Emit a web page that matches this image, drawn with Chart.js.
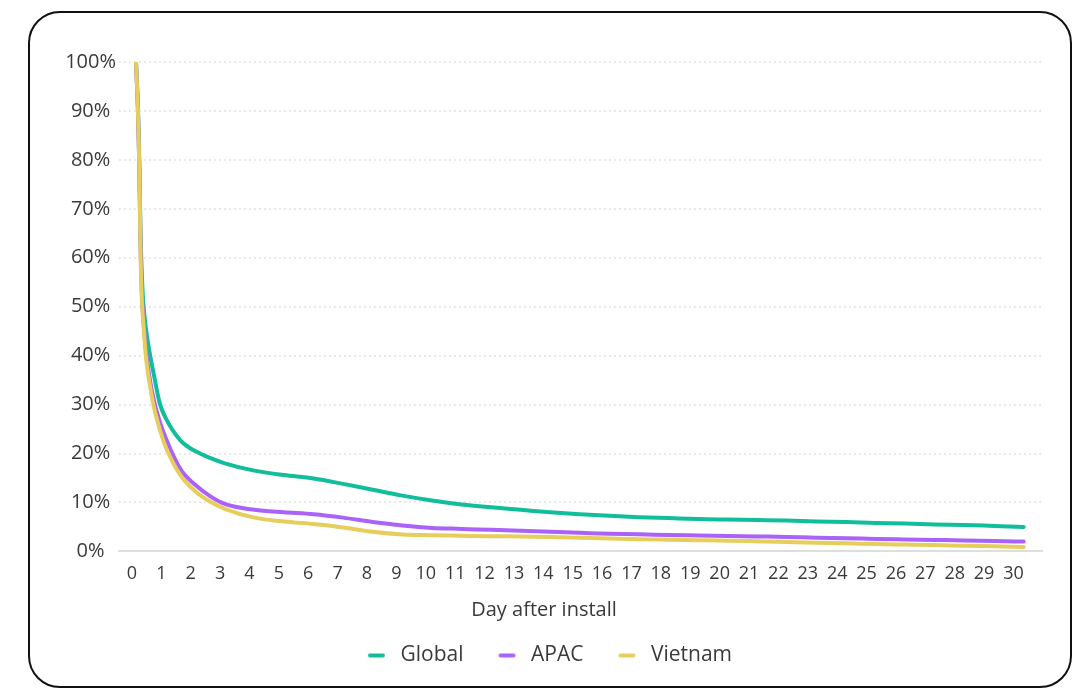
<!DOCTYPE html>
<html>
<head>
<meta charset="utf-8">
<script src="https://cdn.jsdelivr.net/npm/chart.js@4/dist/chart.umd.min.js"></script>
<style>
  html, body { margin: 0; padding: 0; background: #ffffff; }
  body { width: 1076px; height: 692px; position: relative; overflow: hidden; }
  .frame {
    position: absolute; left: 28px; top: 11px; width: 1040px; height: 673px;
    border: 2px solid #111111; border-radius: 32px;
  }
  canvas { position: absolute; left: 0; top: 0; }
</style>
</head>
<body>
<div class="frame"></div>
<canvas id="chart" width="1076" height="692"></canvas>
<script>
// Days after install (fractional steps cover the first-day drop)
const days = [0, 0.07, 0.11, 0.15, 0.2, 0.25, 0.33, 0.45, 0.6, 0.8,
  1, 1.5, 2, 2.5, 3,
  4, 5, 6, 7, 8, 9, 10, 11, 12, 13, 14, 15, 16, 17, 18, 19, 20,
  21, 22, 23, 24, 25, 26, 27, 28, 29, 30];

// Retention, percent of installed users
const globalRetention = [100, 90, 80, 66, 56, 50.5, 45.8, 41, 36.2, 30.3,
  27.3, 22.7, 20.5, 19.1, 18.0,
  16.5, 15.6, 14.9, 13.8, 12.6, 11.4, 10.4, 9.6, 9.0, 8.5, 8.0, 7.6, 7.3, 7.0, 6.8, 6.6, 6.5,
  6.4, 6.3, 6.1, 6.0, 5.8, 5.7, 5.5, 5.4, 5.2, 5.0];
const apacRetention = [100, 89, 79, 63.5, 52.5, 47.5, 41.5, 35.8, 31, 26.6,
  23.2, 16.8, 13.6, 11.3, 9.7,
  8.5, 8.0, 7.6, 6.9, 6.0, 5.3, 4.8, 4.6, 4.4, 4.2, 4.0, 3.8, 3.6, 3.5, 3.35, 3.25, 3.15,
  3.05, 2.95, 2.8, 2.7, 2.55, 2.45, 2.35, 2.25, 2.1, 2.0];
const vietnamRetention = [100, 89, 79, 62, 51, 46.5, 40, 34.6, 29.6, 25,
  21.4, 15.6, 12.3, 10.2, 8.7,
  6.9, 6.1, 5.6, 4.9, 4.0, 3.45, 3.3, 3.2, 3.1, 3.05, 2.95, 2.8, 2.65, 2.5, 2.4, 2.3, 2.2,
  2.05, 1.9, 1.75, 1.65, 1.5, 1.4, 1.3, 1.15, 1.05, 0.9];

const seriesNames = ['Global', 'APAC', 'Vietnam'];
const seriesColors = ['#12bd9b', '#ab62f8', '#e6cd5c'];
const dayTicks = Array.from({ length: 31 }, (_, i) => i);
const percentTicks = [0, 10, 20, 30, 40, 50, 60, 70, 80, 90, 100];

const FONT = "'Open Sans', 'Noto Sans', sans-serif";
const TEXT = '#3a3a3a';

// Legend marker: a short rounded dash sitting at the right of its slot
function dashMarker(color) {
  const c = document.createElement('canvas');
  c.width = 34; c.height = 6;
  const g = c.getContext('2d');
  g.strokeStyle = color; g.lineWidth = 4; g.lineCap = 'round';
  g.beginPath(); g.moveTo(14, 3); g.lineTo(27, 3); g.stroke();
  return c;
}

const seriesValues = [globalRetention, apacRetention, vietnamRetention];
const datasets = seriesNames.map((name, i) => ({
  label: name,
  data: days.map((d, k) => ({ x: d, y: seriesValues[i][k] })),
  borderColor: seriesColors[i],
  backgroundColor: seriesColors[i],
  borderWidth: 4,
  borderCapStyle: 'round',
  borderJoinStyle: 'round',
  pointRadius: 0,
  pointHoverRadius: 0,
  cubicInterpolationMode: 'monotone',
  fill: false,
  order: seriesNames.length - i,
  pointStyle: dashMarker(seriesColors[i])
}));

new Chart(document.getElementById('chart'), {
  type: 'line',
  data: { datasets },
  options: {
    responsive: false,
    animation: false,
    events: [],
    layout: { padding: { left: 46, right: 34, top: 62, bottom: 16 } },
    scales: {
      x: {
        type: 'linear',
        display: false,
        min: -0.575,
        max: 30.62
      },
      xLabels: {
        type: 'linear',
        position: 'bottom',
        min: -0.44,
        max: 30.97,
        afterBuildTicks: axis => { axis.ticks = dayTicks.map(v => ({ value: v })); },
        grid: { display: false, drawTicks: false },
        border: { display: true, color: '#dedede', width: 2 },
        ticks: {
          color: TEXT,
          font: { family: FONT, size: 18 },
          padding: 12,
          maxRotation: 0,
          autoSkip: false,
          callback: v => String(v)
        }
      },
      y: {
        min: 0,
        max: 100,
        afterBuildTicks: axis => { axis.ticks = percentTicks.map(v => ({ value: v })); },
        afterFit: axis => { axis.width = 73; },
        grid: {
          color: '#e9e9e9',
          lineWidth: 2,
          drawTicks: false
        },
        border: { display: false, dash: [2, 3] },
        ticks: {
          color: TEXT,
          font: { family: FONT, size: 20 },
          padding: 3,
          crossAlign: 'center',
          callback: v => v + '%'
        }
      }
    },
    plugins: {
      title: {
        display: true,
        position: 'bottom',
        weight: 500,
        text: 'Day after install',
        color: TEXT,
        font: { family: FONT, size: 20, weight: 'normal' },
        padding: { top: 1, bottom: 0 }
      },
      legend: {
        position: 'bottom',
        labels: {
          sort: (a, b) => a.datasetIndex - b.datasetIndex,
          usePointStyle: true,
          pointStyleWidth: 34,
          boxHeight: 20,
          padding: 23,
          color: TEXT,
          font: { family: FONT, size: 21 }
        }
      },
      tooltip: { enabled: false }
    }
  }
});
</script>
</body>
</html>
